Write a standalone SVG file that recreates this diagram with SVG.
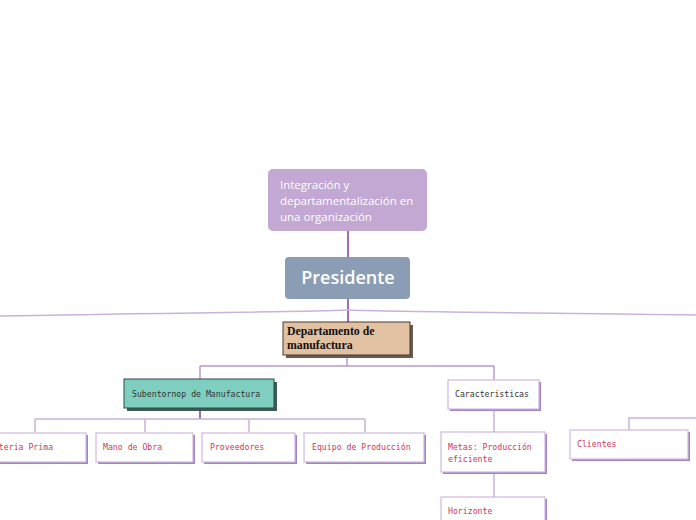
<svg xmlns="http://www.w3.org/2000/svg" width="696" height="520" viewBox="0 0 696 520">
<style>
.c1{fill:none;stroke:#9a6fb8;stroke-width:2}
.c2{fill:none;stroke:#c9b3dd;stroke-width:1.5}
.c3{fill:none;stroke:#b69ad0;stroke-width:1.5}
.wb{fill:#fff;stroke:#cdb8df;stroke-width:1.2}
.ws{fill:#a582c4}
.pt{font-family:"DejaVu Sans Mono","Liberation Mono",monospace;font-size:8.2px;fill:#d0365a}
.dt{font-family:"DejaVu Sans Mono","Liberation Mono",monospace;font-size:8.2px;fill:#333}
</style>
<rect width="696" height="520" fill="#fff"/>
<g id="connectors">
<path class="c1" d="M348,231 V257"/>
<path class="c1" d="M348,299 V322"/>
<path class="c2" d="M348,310 C300,312 150,313 0,316"/>
<path class="c2" d="M348,310 C400,312 550,313 696,315"/>
<path class="c3" d="M347,356 V366"/>
<path class="c3" d="M200,366 H494 M200,366 V379 M494,366 V380"/>
<path class="c1" d="M200,408 V419"/>
<path class="c2" d="M35,419 H365 M35,419 V432 M145,419 V432 M249,419 V432 M365,419 V432"/>
<path class="c2" d="M494,409 V432"/>
<path class="c2" d="M494,472 V497"/>
<path class="c2" d="M629,430 V418 H696"/>
</g>
<g id="title">
<rect x="268" y="169" width="159" height="62" rx="5" fill="#c3a8d3"/>
<text font-family="'Open Sans','Noto Sans',sans-serif" font-size="11.5" font-weight="500" fill="#fff"><tspan x="280" y="189">Integración y</tspan><tspan x="280" y="205">departamentalización en</tspan><tspan x="280" y="221">una organización</tspan></text>
</g>
<g id="presidente">
<rect x="285" y="257" width="125" height="42" rx="4" fill="#8a9db5"/>
<text x="348" y="284" text-anchor="middle" font-family="'Open Sans','Noto Sans',sans-serif" font-size="18" font-weight="600" fill="#fff">Presidente</text>
</g>
<g id="departamento">
<rect x="286" y="325" width="127" height="33" fill="#6b5a50"/>
<rect x="283" y="322" width="127" height="33" fill="#e2c0a2" stroke="#4a3a30" stroke-width="1"/>
<text font-family="'Liberation Serif',serif" font-weight="bold" font-size="11.8" fill="#111"><tspan x="287" y="335">Departamento de</tspan><tspan x="287" y="349">manufactura</tspan></text>
</g>
<g id="subentorno">
<rect x="127" y="382" width="150" height="29" fill="#3d5a55"/>
<rect x="124" y="379" width="150" height="29" fill="#7ecfc0" stroke="#2f4a46" stroke-width="1"/>
<text class="dt" x="132" y="397">Subentornop de Manufactura</text>
</g>
<g id="caracteristicas">
<rect class="ws" x="450" y="382" width="91" height="29"/>
<rect class="wb" x="448" y="380" width="91" height="29"/>
<text class="dt" x="455" y="397">Caracteristicas</text>
</g>
<g id="materia">
<rect class="ws" x="-13" y="435" width="101" height="29"/>
<rect class="wb" x="-15" y="433" width="101" height="29"/>
<text class="pt" x="-11" y="450">Materia Prima</text>
</g>
<g id="mano">
<rect class="ws" x="98" y="435" width="97" height="29"/>
<rect class="wb" x="96" y="433" width="97" height="29"/>
<text class="pt" x="103" y="450">Mano de Obra</text>
</g>
<g id="proveedores">
<rect class="ws" x="204" y="435" width="93" height="29"/>
<rect class="wb" x="202" y="433" width="93" height="29"/>
<text class="pt" x="210" y="450">Proveedores</text>
</g>
<g id="equipo">
<rect class="ws" x="306" y="435" width="120" height="29"/>
<rect class="wb" x="304" y="433" width="120" height="29"/>
<text class="pt" x="312" y="450">Equipo de Producción</text>
</g>
<g id="metas">
<rect class="ws" x="443" y="434" width="104" height="40"/>
<rect class="wb" x="441" y="432" width="104" height="40"/>
<text class="pt"><tspan x="448" y="450">Metas: Producción</tspan><tspan x="448" y="462">eficiente</tspan></text>
</g>
<g id="horizonte">
<rect class="ws" x="443" y="499" width="104" height="30"/>
<rect class="wb" x="441" y="497" width="104" height="30"/>
<text class="pt" x="448" y="514">Horizonte</text>
</g>
<g id="clientes">
<rect class="ws" x="572" y="432" width="118" height="29"/>
<rect class="wb" x="570" y="430" width="118" height="29"/>
<text class="pt" x="577" y="447">Clientes</text>
</g>
</svg>
